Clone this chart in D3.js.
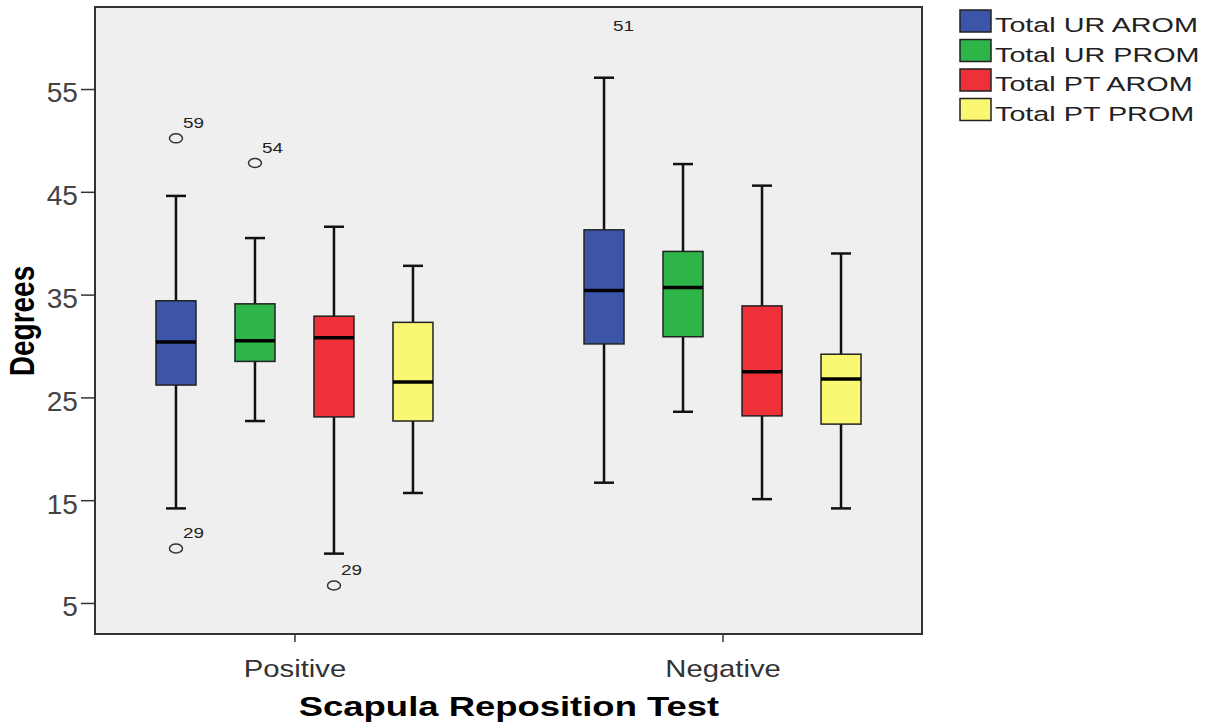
<!DOCTYPE html>
<html>
<head>
<meta charset="utf-8">
<script src="https://cdn.jsdelivr.net/npm/d3@7"></script>
<style>
  body { margin: 0; background: #fff; }
  svg { display: block; font-family: "Liberation Sans", Arial, sans-serif; }
</style>
</head>
<body>
<div class="graph"></div>
<script>
// categories and series
var groups = ['Positive', 'Negative'];
var series = ['Total UR AROM', 'Total UR PROM', 'Total PT AROM', 'Total PT PROM'];
var colors = ['#3d55a8', '#2db54a', '#ee3039', '#faf773'];

// box statistics, one row per group, one column per series
var lowWhisker  = [[14.2, 22.7,  9.8, 15.7], [16.7, 23.6, 15.1, 14.2]];
var q1          = [[26.2, 28.5, 23.1, 22.7], [30.2, 30.9, 23.2, 22.4]];
var median      = [[30.4, 30.5, 30.8, 26.5], [35.4, 35.7, 27.5, 26.8]];
var q3          = [[34.4, 34.1, 32.9, 32.3], [41.3, 39.2, 33.9, 29.2]];
var highWhisker = [[44.6, 40.5, 41.6, 37.8], [56.1, 47.7, 45.6, 39.0]];

// outliers: [group, series index, value, case label]
var outliers = [
  ['Positive', 0, 50.2, '59'],
  ['Positive', 0, 10.3, '29'],
  ['Positive', 1, 47.8, '54'],
  ['Positive', 2, 6.7, '29'],
  ['Negative', 0, 63.4, '51']
];

var yTicks = [5, 15, 25, 35, 45, 55];

var width = 1212, height = 723;
var plot = { left: 95, top: 7, right: 922, bottom: 634 };

var svg = d3.select('.graph').append('svg')
    .attr('width', width)
    .attr('height', height);

var y = d3.scaleLinear().domain([1.98, 62.98]).range([plot.bottom, plot.top]);
var x = d3.scalePoint().domain(groups).range([plot.left, plot.right]).padding(0.466);
var xs = d3.scaleBand().domain(d3.range(series.length)).range([-158, 158]);
var boxW = 40, capW = 20;

svg.append('defs').append('clipPath').attr('id', 'clip')
  .append('rect')
    .attr('x', plot.left).attr('y', plot.top)
    .attr('width', plot.right - plot.left).attr('height', plot.bottom - plot.top);

svg.append('rect')
    .attr('x', plot.left).attr('y', plot.top)
    .attr('width', plot.right - plot.left).attr('height', plot.bottom - plot.top)
    .attr('fill', '#efefef');

// y axis
var yAxis = svg.append('g')
    .attr('transform', 'translate(' + plot.left + ',0)')
    .call(d3.axisLeft(y).tickValues(yTicks).tickSize(14).tickPadding(0));
yAxis.select('.domain').remove();
yAxis.selectAll('line').attr('stroke', '#333').attr('stroke-width', 1.5);
yAxis.selectAll('text')
    .attr('x', -16.5).attr('dy', '0.48em')
    .attr('fill', '#444')
    .style('font-size', '27px')
    .attr('transform', 'scale(1.04,1)');

// x axis
var xAxis = svg.append('g')
    .attr('transform', 'translate(0,' + plot.bottom + ')')
    .call(d3.axisBottom(x).tickSize(8).tickPadding(0));
xAxis.select('.domain').remove();
xAxis.selectAll('line').attr('stroke', '#333').attr('stroke-width', 1.5);
xAxis.selectAll('text')
    .attr('y', 0).attr('dy', 0)
    .attr('fill', '#333')
    .style('font-size', '24px')
    .attr('transform', 'translate(0,43) scale(1.22,1)');

// boxes
var rows = [];
groups.forEach(function (g, gi) {
  series.forEach(function (s, si) {
    rows.push({
      group: g, si: si,
      lo: lowWhisker[gi][si], q1: q1[gi][si], med: median[gi][si],
      q3: q3[gi][si], hi: highWhisker[gi][si]
    });
  });
});

function cx(d) { return x(d.group) + xs(d.si) + xs.bandwidth() / 2; }

var box = svg.append('g').selectAll('g')
  .data(rows)
  .enter().append('g');

box.append('line')
    .attr('x1', cx).attr('x2', cx)
    .attr('y1', function (d) { return y(d.hi); })
    .attr('y2', function (d) { return y(d.lo); })
    .attr('stroke', '#111').attr('stroke-width', 2.5);

box.selectAll('.cap')
  .data(function (d) { return [d.hi, d.lo].map(function (v) { return { d: d, v: v }; }); })
  .enter().append('line')
    .attr('x1', function (e) { return cx(e.d) - capW / 2; })
    .attr('x2', function (e) { return cx(e.d) + capW / 2; })
    .attr('y1', function (e) { return y(e.v); })
    .attr('y2', function (e) { return y(e.v); })
    .attr('stroke', '#111').attr('stroke-width', 2.5);

box.append('rect')
    .attr('x', function (d) { return cx(d) - boxW / 2; })
    .attr('y', function (d) { return y(d.q3); })
    .attr('width', boxW)
    .attr('height', function (d) { return y(d.q1) - y(d.q3); })
    .attr('fill', function (d) { return colors[d.si]; })
    .attr('stroke', '#222').attr('stroke-width', 1.5);

box.append('line')
    .attr('x1', function (d) { return cx(d) - boxW / 2; })
    .attr('x2', function (d) { return cx(d) + boxW / 2; })
    .attr('y1', function (d) { return y(d.med); })
    .attr('y2', function (d) { return y(d.med); })
    .attr('stroke', '#000').attr('stroke-width', 3.5);

// outliers
function ox(o) { return x(o[0]) + xs(o[1]) + xs.bandwidth() / 2; }

svg.append('g').attr('clip-path', 'url(#clip)')
  .selectAll('ellipse')
  .data(outliers)
  .enter().append('ellipse')
    .attr('cx', ox)
    .attr('cy', function (o) { return y(o[2]); })
    .attr('rx', 6.5).attr('ry', 4.5)
    .attr('fill', 'none')
    .attr('stroke', '#333').attr('stroke-width', 1.5);

svg.append('g').selectAll('text')
  .data(outliers)
  .enter().append('text')
    .attr('transform', function (o) {
      var ty = Math.max(y(o[2]) - 10, plot.top + 24);
      var tx = y(o[2]) < plot.top ? ox(o) + 9 : ox(o) + 7;
      return 'translate(' + tx + ',' + ty + ') scale(1.35,1)';
    })
    .attr('fill', '#222')
    .style('font-size', '14px')
    .text(function (o) { return o[3]; });

// plot frame
svg.append('rect')
    .attr('x', plot.left).attr('y', plot.top)
    .attr('width', plot.right - plot.left).attr('height', plot.bottom - plot.top)
    .attr('fill', 'none')
    .attr('stroke', '#333').attr('stroke-width', 2);

// axis titles
svg.append('text')
    .attr('transform', 'translate(509,716) scale(1.35,1)')
    .attr('text-anchor', 'middle')
    .style('font-size', '27px').style('font-weight', 'bold')
    .text('Scapula Reposition Test');

svg.append('text')
    .attr('transform', 'translate(34,321) scale(1.25,1) rotate(-90)')
    .attr('text-anchor', 'middle')
    .style('font-size', '28px').style('font-weight', 'bold')
    .text('Degrees');

// legend
var legend = svg.append('g').selectAll('g')
  .data(series)
  .enter().append('g')
    .attr('transform', function (d, i) { return 'translate(960,' + (32 + i * 29.5) + ')'; });

legend.append('rect')
    .attr('x', 0).attr('y', -22)
    .attr('width', 31).attr('height', 22)
    .attr('fill', function (d, i) { return colors[i]; })
    .attr('stroke', '#222').attr('stroke-width', 1.5);

legend.append('text')
    .attr('transform', 'translate(35,0) scale(1.37,1)')
    .attr('fill', '#222')
    .style('font-size', '21px')
    .text(function (d) { return d; });
</script>
</body>
</html>
